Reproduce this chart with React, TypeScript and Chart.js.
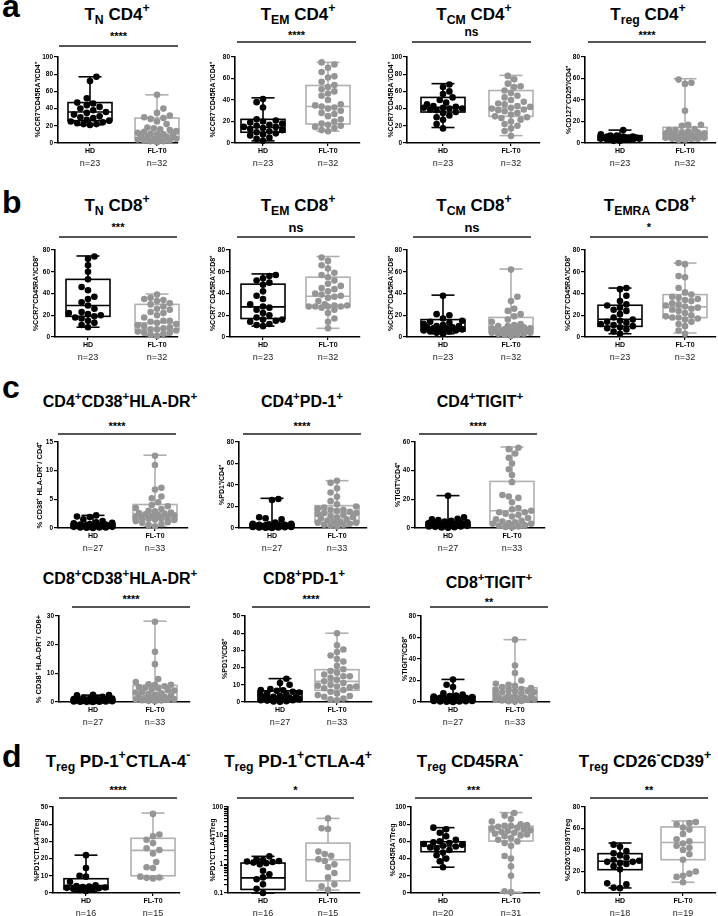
import React, { useEffect, useRef } from "react";
import { Chart, registerables } from "chart.js";

Chart.register(...registerables);
Chart.defaults.font.family = '"Liberation Sans", Arial, Helvetica, sans-serif';

const FONT = '"Liberation Sans", Arial, Helvetica, sans-serif';
const GROUPS = ["HD", "FL-T0"];
const HD_COLOR = "#000000";
const FL_POINT = "#959595";
const FL_LINE = "#b0b0b0";

// ---------- data ----------
// box stats: [min, q1, median, q3, max]
const TN_CD4_HD = [77, 72, 52, 47, 46, 44, 42, 40, 38, 36, 35, 33, 31, 30, 29, 27, 26, 25, 24, 23, 22, 22, 21];
const TN_CD4_FL = [56, 40, 35, 32, 30, 29, 28, 25, 22, 18, 17, 16, 15, 14, 13, 12, 11, 10, 10, 9, 8, 7, 7, 6, 5, 5, 4, 3, 3, 2, 2, 1];
const TN_CD4_HD_BOX = [21, 26, 36, 47, 77];
const TN_CD4_FL_BOX = [1, 5, 10.5, 29, 56];

const TEM_CD4_HD = [41, 38, 33, 22, 21, 20, 19, 18, 17, 16, 15, 15, 14, 13, 12, 11, 10, 9, 8, 7, 5, 4, 2];
const TEM_CD4_FL = [75, 73, 70, 66, 62, 61, 57, 54, 52, 50, 48, 46, 44, 40, 36, 35, 34, 33, 32, 30, 28, 27, 25, 22, 20, 18, 17, 16, 15, 14, 12, 11];
const TEM_CD4_HD_BOX = [2, 10, 14.6, 22, 42];
const TEM_CD4_FL_BOX = [11, 17.7, 34, 53.5, 75];

const TCM_CD4_HD = [68, 65, 60, 57, 53, 50, 47, 45, 43, 42, 41, 41, 40, 40, 39, 38, 36, 35, 32, 30, 27, 22, 17];
const TCM_CD4_FL = [78, 74, 69, 66, 65, 61, 58, 55, 53, 50, 48, 46, 45, 43, 42, 41, 40, 39, 38, 37, 35, 33, 31, 30, 29, 27, 25, 22, 20, 17, 14, 8];
const TCM_CD4_HD_BOX = [18, 36, 41.6, 53, 69];
const TCM_CD4_FL_BOX = [8.6, 31, 41, 61, 78.6];

const TREG_CD4_HD = [12, 8, 7, 7, 6, 6, 6, 5, 5, 5, 5, 5, 5, 4, 4, 4, 4, 4, 3, 3, 3, 2, 2];
const TREG_CD4_FL = [59, 56, 55, 30, 17, 17, 16, 13, 12, 12, 11, 10, 10, 9, 9, 8, 8, 7, 7, 7, 6, 6, 6, 5, 5, 5, 5, 4, 4, 4, 3, 3];
const TREG_CD4_HD_BOX = [1.5, 2.8, 4.7, 6.9, 12];
const TREG_CD4_FL_BOX = [2.2, 3.7, 6.9, 14.6, 59.8];

const TN_CD8_HD = [74, 72, 66, 60, 53, 46, 43, 37, 35, 32, 29, 26, 23, 22, 21, 20, 19, 18, 17, 15, 13, 11, 9];
const TN_CD8_FL = [39, 36, 35, 34, 33, 31, 30, 28, 26, 25, 23, 22, 20, 18, 15, 15, 14, 13, 12, 11, 10, 9, 8, 7, 7, 6, 5, 4, 4, 3, 2, 1];
const TN_CD8_HD_BOX = [9, 19, 29, 53, 74.5];
const TN_CD8_FL_BOX = [1.5, 7, 13, 30, 39.5];

const TEM_CD8_HD = [57, 56, 54, 52, 50, 48, 42, 38, 35, 30, 28, 27, 25, 22, 20, 18, 16, 16, 15, 14, 12, 11, 10];
const TEM_CD8_FL = [73, 70, 66, 63, 59, 57, 55, 52, 49, 47, 45, 44, 42, 40, 39, 38, 37, 36, 33, 30, 29, 29, 28, 28, 28, 28, 27, 25, 22, 17, 14, 8];
const TEM_CD8_HD_BOX = [10, 17, 27.7, 48.6, 58];
const TEM_CD8_FL_BOX = [8, 28, 37.5, 55, 74];

const TCM_CD8_HD = [38, 21, 20, 17, 15, 14, 13, 12, 11, 10, 10, 9, 9, 8, 8, 7, 7, 6, 6, 5, 5, 4, 3];
const TCM_CD8_FL = [62, 37, 33, 26, 24, 21, 19, 16, 14, 12, 11, 10, 10, 9, 9, 8, 8, 7, 7, 6, 6, 6, 5, 5, 5, 4, 4, 3, 3, 2, 2, 1];
const TCM_CD8_HD_BOX = [3, 5.5, 9, 16, 38.5];
const TCM_CD8_FL_BOX = [1.5, 4.6, 8.3, 18, 62.5];

const TEMRA_CD8_HD = [45, 44, 38, 33, 30, 29, 27, 25, 24, 21, 18, 16, 15, 14, 13, 12, 11, 10, 9, 8, 7, 5, 3];
const TEMRA_CD8_FL = [68, 67, 56, 55, 45, 41, 39, 37, 36, 35, 34, 33, 31, 30, 29, 28, 27, 26, 25, 24, 22, 20, 19, 18, 18, 17, 16, 14, 12, 10, 6, 3];
const TEMRA_CD8_HD_BOX = [3, 9.8, 16.3, 29.2, 45];
const TEMRA_CD8_FL_BOX = [3.7, 17.8, 27.7, 39, 68];

const CD4_HLA_HD = [2.2, 2.0, 1.9, 1.5, 1.2, 1.0, 0.9, 0.8, 0.7, 0.6, 0.6, 0.5, 0.5, 0.4, 0.4, 0.4, 0.3, 0.3, 0.3, 0.2, 0.2, 0.2, 0.1, 0.1, 0.1, 0.05, 0.02];
const CD4_HLA_FL = [12.6, 11, 7, 6.7, 5.5, 5.2, 4.5, 4, 3.8, 3.5, 3.3, 3.0, 2.9, 2.7, 2.6, 2.5, 2.4, 2.3, 2.2, 2.1, 2.0, 1.9, 1.8, 1.7, 1.6, 1.5, 1.4, 1.2, 1.0, 0.9, 0.7, 0.5, 0.3];
const CD4_HLA_HD_BOX = [0, 0.06, 0.3, 0.75, 2.2];
const CD4_HLA_FL_BOX = [0.3, 1.45, 2.4, 4.1, 12.7];

const CD4_PD1_HD = [27, 26, 10, 9, 8, 5, 4, 4, 3.5, 3, 3, 3, 2.5, 2.5, 2, 2, 2, 1.5, 1.5, 1, 1, 1, 0.8, 0.5, 0.5, 0.3, 0.1];
const CD4_PD1_FL = [44, 42, 37, 33, 29, 25, 22, 20, 19, 18, 17, 17, 16, 15, 14, 14, 13, 12, 11, 10, 10, 9, 8, 7, 6, 6, 5, 5, 4, 3, 3, 2, 1.5];
const CD4_PD1_HD_BOX = [0, 0.6, 2.2, 4, 27.6];
const CD4_PD1_FL_BOX = [1.5, 5.3, 14, 20.8, 44];

const CD4_TIGIT_HD = [22.5, 7.5, 6.5, 6, 5.5, 5, 4.5, 4, 4, 3.5, 3.5, 3, 3, 3, 2.5, 2.5, 2, 2, 2, 1.5, 1.5, 1, 1, 0.8, 0.5, 0.3, 0.1];
const CD4_TIGIT_FL = [56, 55, 52, 49, 45, 41, 37, 32, 23, 22, 21, 18, 14, 13, 12, 11, 11, 10, 9, 8, 7, 6, 5, 4.5, 4, 3.5, 3, 3, 2, 1.5, 1, 0.8, 0.5];
const CD4_TIGIT_HD_BOX = [0, 1.2, 2.1, 4, 22.6];
const CD4_TIGIT_FL_BOX = [0.5, 3, 12, 32.5, 56.5];

const CD8_HLA_HD = [2.5, 2.4, 2.3, 1.8, 1.5, 1.3, 1.2, 1.1, 1.0, 0.9, 0.8, 0.8, 0.7, 0.6, 0.6, 0.5, 0.5, 0.4, 0.4, 0.3, 0.3, 0.2, 0.2, 0.1, 0.1, 0.05, 0.02];
const CD8_HLA_FL = [28, 17.5, 13.2, 8, 7, 6.2, 6, 6, 5.5, 5.2, 5, 4.8, 4.5, 4.2, 4, 3.5, 3.3, 3, 2.8, 2.5, 2.2, 2, 1.8, 1.5, 1.4, 1.2, 1.0, 0.9, 0.8, 0.6, 0.5, 0.4, 0.3];
const CD8_HLA_HD_BOX = [0, 0.1, 0.45, 0.9, 2.4];
const CD8_HLA_FL_BOX = [0.3, 1.5, 3.3, 5.8, 28.2];

const CD8_PD1_HD = [13.5, 11, 10, 7.5, 7, 6.8, 6.5, 6, 5.5, 5, 4.5, 4, 3.5, 3, 3, 2.5, 2.5, 2, 2, 1.5, 1.5, 1, 1, 0.8, 0.5, 0.3, 0.1];
const CD8_PD1_FL = [40, 33, 30.5, 29, 27, 25, 23.5, 21, 19, 18, 17, 16, 15, 15, 14, 13, 12, 11, 10, 9.5, 9, 9, 8.5, 8, 7, 6, 5, 4, 3.5, 3, 2, 1.5, 1];
const CD8_PD1_HD_BOX = [0, 0.5, 2.9, 6.5, 13.6];
const CD8_PD1_FL_BOX = [1, 6.8, 12, 18.8, 40];

const CD8_TIGIT_HD = [21, 16, 14, 8, 7, 6, 5.5, 5, 4.5, 4, 4, 3.5, 3, 3, 2.5, 2.5, 2, 2, 1.5, 1.5, 1, 1, 0.8, 0.5, 0.4, 0.2, 0.1];
const CD8_TIGIT_FL = [58, 34, 27, 20, 17, 16, 15, 14, 13, 12, 11, 11, 10, 10, 9, 9, 8, 7, 6, 5, 5, 4, 4, 3.5, 3, 3, 2.5, 2, 2, 1.5, 1, 0.8, 0.5];
const CD8_TIGIT_HD_BOX = [0, 0.9, 2.2, 5.2, 21];
const CD8_TIGIT_FL_BOX = [0.6, 1.5, 4, 13.2, 58];

const TREG_PD1_CTLA4N_HD = [22, 14.5, 10, 9.5, 6.5, 4.5, 4, 3.8, 3.5, 3.2, 3, 2.8, 2.5, 2.2, 1.8, 1.2];
const TREG_PD1_CTLA4N_FL = [46, 34, 33, 31, 29, 26, 25, 23, 18, 15, 14.5, 9.5, 9, 8.8, 8.5];
const TREG_PD1_CTLA4N_HD_BOX = [1, 2.3, 4.3, 8.3, 22];
const TREG_PD1_CTLA4N_FL_BOX = [8.5, 10, 24.8, 31.8, 46.5];

const TREG_PD1_CTLA4P_HD = [1.9, 1.5, 1.4, 1.3, 1.25, 1.2, 1.15, 1.1, 1.0, 0.6, 0.45, 0.35, 0.3, 0.2, 0.14, 0.1];
const TREG_PD1_CTLA4P_FL = [40, 18, 17, 2.8, 2.3, 2.0, 1.5, 1.3, 1.0, 0.8, 0.5, 0.35, 0.2, 0.17, 0.13];
const TREG_PD1_CTLA4P_HD_BOX = [0.1, 0.133, 0.337, 1.11, 1.9];
const TREG_PD1_CTLA4P_FL_BOX = [0.126, 0.265, 1.45, 5.5, 40];

const TREG_CD45RA_HD = [76, 74, 70, 66, 62, 60, 59, 58, 57, 56, 55, 54, 53, 52, 50, 47, 44, 40, 37, 30];
const TREG_CD45RA_FL = [93, 90, 86, 83, 80, 79, 78, 78, 77, 76, 75, 74, 73, 72, 71, 70, 69, 68, 67, 66, 64, 62, 60, 58, 55, 43, 40, 31, 20, 2, 1];
const TREG_CD45RA_HD_BOX = [30, 48, 54.6, 59.6, 76];
const TREG_CD45RA_FL_BOX = [1, 60.4, 71, 77.7, 93.5];

const TREG_CD26_HD = [45, 43, 39, 37, 35, 33, 31, 30, 29, 29, 28, 27, 25, 22, 9, 8, 5, 4.5];
const TREG_CD26_FL = [66, 65, 64, 61, 59, 55, 50, 48, 46, 44, 42, 40, 36, 31, 20, 18, 16, 15, 10];
const TREG_CD26_HD_BOX = [4.7, 21.7, 29.5, 36.6, 46.5];
const TREG_CD26_FL_BOX = [10, 31, 47, 61.4, 67];

// ---------- panel definitions ----------
type Seg = [string, string?];
interface P {
  title: Seg[]; tx: number; tb: number; ts: number;
  stars: string; sb: number; ss: number;
  ly: number; lx1: number; lx2: number;
  axisX: number; axisEnd: number; yTop: number; y0: number; hdX: number; flX: number;
  yMin: number; yMax: number; step?: number; log?: boolean;
  yTitle: string; yto: number; ytSize?: number;
  hd: number[]; fl: number[]; hdBox: number[]; flBox: number[];
}

const T = (sub: string, rest: string, ...more: Seg[]): Seg[] => [["T"], [sub, "sub"], [rest], ...more];

const PANELS: P[] = [
  // row a
  { title: T("N", " CD4", ["+", "sup"]), tx: 117, tb: 20, ts: 17, stars: "****", sb: 40, ss: 11, ly: 46, lx1: 59, lx2: 178,
    axisX: 58, axisEnd: 178, yTop: 57, y0: 143, hdX: 90, flX: 157, yMin: 0, yMax: 100, step: 20,
    yTitle: "%CCR7⁺CD45RA⁺/CD4⁺", yto: 20, hd: TN_CD4_HD, fl: TN_CD4_FL, hdBox: TN_CD4_HD_BOX, flBox: TN_CD4_FL_BOX },
  { title: T("EM", " CD4", ["+", "sup"]), tx: 298, tb: 20, ts: 17, stars: "****", sb: 39, ss: 11, ly: 42, lx1: 237, lx2: 356,
    axisX: 235, axisEnd: 360, yTop: 57, y0: 143, hdX: 263, flX: 328, yMin: 0, yMax: 80, step: 20,
    yTitle: "%CCR7⁻CD45RA⁻/CD4⁺", yto: 22, hd: TEM_CD4_HD, fl: TEM_CD4_FL, hdBox: TEM_CD4_HD_BOX, flBox: TEM_CD4_FL_BOX },
  { title: T("CM", " CD4", ["+", "sup"]), tx: 474, tb: 20, ts: 17, stars: "ns", sb: 36, ss: 12, ly: 42, lx1: 412, lx2: 531,
    axisX: 407, axisEnd: 540, yTop: 57, y0: 143, hdX: 443, flX: 511, yMin: 0, yMax: 100, step: 20,
    yTitle: "%CCR7⁺CD45RA⁻/CD4⁺", yto: 16, hd: TCM_CD4_HD, fl: TCM_CD4_FL, hdBox: TCM_CD4_HD_BOX, flBox: TCM_CD4_FL_BOX },
  { title: T("reg", " CD4", ["+", "sup"]), tx: 648, tb: 20, ts: 17, stars: "****", sb: 39, ss: 11, ly: 42, lx1: 588, lx2: 706,
    axisX: 585, axisEnd: 716, yTop: 57, y0: 143, hdX: 620, flX: 685, yMin: 0, yMax: 80, step: 20,
    yTitle: "%CD127⁻CD25⁺/CD4⁺", yto: 16, hd: TREG_CD4_HD, fl: TREG_CD4_FL, hdBox: TREG_CD4_HD_BOX, flBox: TREG_CD4_FL_BOX },
  // row b
  { title: T("N", " CD8", ["+", "sup"]), tx: 117, tb: 211, ts: 17, stars: "***", sb: 231, ss: 11, ly: 237, lx1: 59, lx2: 177,
    axisX: 55, axisEnd: 178, yTop: 250, y0: 337, hdX: 88, flX: 157, yMin: 0, yMax: 80, step: 20,
    yTitle: "%CCR7⁺CD45RA⁺/CD8⁺", yto: 19, hd: TN_CD8_HD, fl: TN_CD8_FL, hdBox: TN_CD8_HD_BOX, flBox: TN_CD8_FL_BOX },
  { title: T("EM", " CD8", ["+", "sup"]), tx: 298, tb: 211, ts: 17, stars: "ns", sb: 232, ss: 13, ly: 237, lx1: 237, lx2: 355,
    axisX: 230, axisEnd: 360, yTop: 250, y0: 337, hdX: 263, flX: 328, yMin: 0, yMax: 80, step: 20,
    yTitle: "%CCR7⁻CD45RA⁻/CD8⁺", yto: 17, hd: TEM_CD8_HD, fl: TEM_CD8_FL, hdBox: TEM_CD8_HD_BOX, flBox: TEM_CD8_FL_BOX },
  { title: T("CM", " CD8", ["+", "sup"]), tx: 474, tb: 211, ts: 17, stars: "ns", sb: 232, ss: 13, ly: 237, lx1: 413, lx2: 531,
    axisX: 407, axisEnd: 540, yTop: 250, y0: 337, hdX: 443, flX: 511, yMin: 0, yMax: 80, step: 20,
    yTitle: "%CCR7⁺CD45RA⁻/CD8⁺", yto: 16, hd: TCM_CD8_HD, fl: TCM_CD8_FL, hdBox: TCM_CD8_HD_BOX, flBox: TCM_CD8_FL_BOX },
  { title: T("EMRA", " CD8", ["+", "sup"]), tx: 650, tb: 211, ts: 17, stars: "*", sb: 231, ss: 11, ly: 237, lx1: 590, lx2: 708,
    axisX: 585, axisEnd: 716, yTop: 250, y0: 337, hdX: 620, flX: 685, yMin: 0, yMax: 80, step: 20,
    yTitle: "%CCR7⁻CD45RA⁺/CD8⁺", yto: 17, hd: TEMRA_CD8_HD, fl: TEMRA_CD8_FL, hdBox: TEMRA_CD8_HD_BOX, flBox: TEMRA_CD8_FL_BOX },
  // row c (top)
  { title: [["CD4"], ["+", "sup"], ["CD38"], ["+", "sup"], ["HLA-DR"], ["+", "sup"]], tx: 120, tb: 408, ts: 16, stars: "****", sb: 430, ss: 11, ly: 434, lx1: 58, lx2: 176,
    axisX: 58, axisEnd: 188, yTop: 442, y0: 528, hdX: 93, flX: 155, yMin: 0, yMax: 15, step: 5,
    yTitle: "% CD38⁺ HLA-DR⁺/ CD4⁺", yto: 18, ytSize: 7.5, hd: CD4_HLA_HD, fl: CD4_HLA_FL, hdBox: CD4_HLA_HD_BOX, flBox: CD4_HLA_FL_BOX },
  { title: [["CD4"], ["+", "sup"], ["PD-1"], ["+", "sup"]], tx: 302, tb: 408, ts: 16, stars: "****", sb: 430, ss: 11, ly: 434, lx1: 243, lx2: 361,
    axisX: 239, axisEnd: 367, yTop: 442, y0: 528, hdX: 272, flX: 337, yMin: 0, yMax: 80, step: 20,
    yTitle: "%PD1⁺/CD4⁺", yto: 17, hd: CD4_PD1_HD, fl: CD4_PD1_FL, hdBox: CD4_PD1_HD_BOX, flBox: CD4_PD1_FL_BOX },
  { title: [["CD4"], ["+", "sup"], ["TIGIT"], ["+", "sup"]], tx: 480, tb: 408, ts: 16, stars: "****", sb: 430, ss: 11, ly: 434, lx1: 419, lx2: 537,
    axisX: 415, axisEnd: 545, yTop: 442, y0: 528, hdX: 448, flX: 512, yMin: 0, yMax: 60, step: 20,
    yTitle: "%TIGIT⁺/CD4⁺", yto: 17, hd: CD4_TIGIT_HD, fl: CD4_TIGIT_FL, hdBox: CD4_TIGIT_HD_BOX, flBox: CD4_TIGIT_FL_BOX },
  // row c (bottom)
  { title: [["CD8"], ["+", "sup"], ["CD38"], ["+", "sup"], ["HLA-DR"], ["+", "sup"]], tx: 120, tb: 585, ts: 16, stars: "****", sb: 603, ss: 11, ly: 607, lx1: 72, lx2: 190,
    axisX: 59, axisEnd: 190, yTop: 616, y0: 702, hdX: 93, flX: 155, yMin: 0, yMax: 30, step: 10,
    yTitle: "% CD38⁺ HLA-DR⁺/ CD8+", yto: 20, ytSize: 7.5, hd: CD8_HLA_HD, fl: CD8_HLA_FL, hdBox: CD8_HLA_HD_BOX, flBox: CD8_HLA_FL_BOX },
  { title: [["CD8"], ["+", "sup"], ["PD-1"], ["+", "sup"]], tx: 304, tb: 585, ts: 16, stars: "****", sb: 603, ss: 11, ly: 607, lx1: 252, lx2: 370,
    axisX: 245, axisEnd: 372, yTop: 616, y0: 702, hdX: 280, flX: 337, yMin: 0, yMax: 50, step: 10,
    yTitle: "%PD1⁺/CD8⁺", yto: 20, hd: CD8_PD1_HD, fl: CD8_PD1_FL, hdBox: CD8_PD1_HD_BOX, flBox: CD8_PD1_FL_BOX },
  { title: [["CD8"], ["+", "sup"], ["TIGIT"], ["+", "sup"]], tx: 489, tb: 589, ts: 16, stars: "**", sb: 606, ss: 11, ly: 607, lx1: 430, lx2: 548,
    axisX: 421, axisEnd: 550, yTop: 616, y0: 702, hdX: 453, flX: 515, yMin: 0, yMax: 80, step: 20,
    yTitle: "%TIGIT⁺/CD8⁺", yto: 16, hd: CD8_TIGIT_HD, fl: CD8_TIGIT_FL, hdBox: CD8_TIGIT_HD_BOX, flBox: CD8_TIGIT_FL_BOX },
  // row d
  { title: T("reg", " PD-1", ["+", "sup"], ["CTLA-4"], ["-", "sup"]), tx: 118, tb: 767, ts: 17, stars: "****", sb: 794, ss: 11, ly: 798, lx1: 59, lx2: 177,
    axisX: 53, axisEnd: 180, yTop: 807, y0: 893, hdX: 86, flX: 153, yMin: 0, yMax: 50, step: 10,
    yTitle: "%PD1⁺CTLA4⁻/Treg", yto: 16, hd: TREG_PD1_CTLA4N_HD, fl: TREG_PD1_CTLA4N_FL, hdBox: TREG_PD1_CTLA4N_HD_BOX, flBox: TREG_PD1_CTLA4N_FL_BOX },
  { title: T("reg", " PD-1", ["+", "sup"], ["CTLA-4"], ["+", "sup"]), tx: 298, tb: 767, ts: 17, stars: "*", sb: 794, ss: 11, ly: 798, lx1: 237, lx2: 354,
    axisX: 228, axisEnd: 360, yTop: 807, y0: 893, hdX: 263, flX: 328, yMin: 0.1, yMax: 100, log: true,
    yTitle: "%PD1⁺CTLA4⁺/Treg", yto: 15, hd: TREG_PD1_CTLA4P_HD, fl: TREG_PD1_CTLA4P_FL, hdBox: TREG_PD1_CTLA4P_HD_BOX, flBox: TREG_PD1_CTLA4P_FL_BOX },
  { title: T("reg", " CD45RA", ["-", "sup"]), tx: 470, tb: 767, ts: 17, stars: "***", sb: 794, ss: 11, ly: 798, lx1: 415, lx2: 532,
    axisX: 411, axisEnd: 540, yTop: 807, y0: 893, hdX: 443, flX: 511, yMin: 0, yMax: 100, step: 20,
    yTitle: "%CD45RA⁻/Treg", yto: 18, hd: TREG_CD45RA_HD, fl: TREG_CD45RA_FL, hdBox: TREG_CD45RA_HD_BOX, flBox: TREG_CD45RA_FL_BOX },
  { title: T("reg", " CD26", ["-", "sup"], ["CD39"], ["+", "sup"]), tx: 645, tb: 767, ts: 17, stars: "**", sb: 794, ss: 11, ly: 798, lx1: 590, lx2: 708,
    axisX: 585, axisEnd: 716, yTop: 807, y0: 893, hdX: 620, flX: 683, yMin: 0, yMax: 80, step: 20,
    yTitle: "%CD26⁻CD39⁺/Treg", yto: 17, hd: TREG_CD26_HD, fl: TREG_CD26_FL, hdBox: TREG_CD26_HD_BOX, flBox: TREG_CD26_FL_BOX },
];

const LETTERS: [string, number][] = [["a", 17], ["b", 213], ["c", 398], ["d", 767]];

// ---------- layout constants ----------
const PADL = 30, PADR = 6, PADT = 8, XH = 30;
const BOX_HALF = 22, CAP = 11.5, R = 3.3;

// beeswarm offsets (pixels) for a set of values
function swarm(values: number[], toPx: (v: number) => number, halfW: number, D: number): number[] {
  const order = values.map((_, i) => i).sort((a, b) => values[a] - values[b]);
  const placed: { x: number; y: number }[] = [];
  const offs = new Array(values.length).fill(0);
  const step = D * 0.5;
  const maxK = Math.floor(halfW / step);
  let flip = 1;
  for (const i of order) {
    const py = toPx(values[i]);
    let best = 0, bestScore = -Infinity, found = false;
    for (let k = 0; k <= maxK && !found; k++) {
      const signs = k === 0 ? [0] : [flip, -flip];
      for (const s of signs) {
        const cx = s * k * step;
        let minD = Infinity;
        for (const q of placed) {
          const d = Math.hypot(q.x - cx, q.y - py);
          if (d < minD) minD = d;
        }
        if (minD >= D) { best = cx; found = true; break; }
        if (minD > bestScore) { bestScore = minD; best = cx; }
      }
    }
    flip = -flip;
    placed.push({ x: best, y: py });
    offs[i] = best;
  }
  return offs;
}

function Panel({ p }: { p: P }) {
  const ref = useRef<HTMLCanvasElement>(null);
  const plotW = p.axisEnd - p.axisX;
  const plotH = p.y0 - p.yTop;
  const W = PADL + plotW + PADR;
  const H = PADT + plotH + XH;

  useEffect(() => {
    const ppuX = p.flX - p.hdX;
    const xMin = 1 - (p.hdX - p.axisX) / ppuX;
    const xMax = 2 + (p.axisEnd - p.flX) / ppuX;
    const toPx = p.log
      ? (v: number) => (Math.log10(v) * plotH) / (Math.log10(p.yMax) - Math.log10(p.yMin))
      : (v: number) => (v * plotH) / (p.yMax - p.yMin);
    const mk = (vals: number[], pos: number) => {
      const o = swarm(vals, toPx, 20, 6.4);
      return vals.map((v, i) => ({ x: pos + o[i] / ppuX, y: v }));
    };
    const ytSize = p.ytSize ?? 7;
    const ytLine = ytSize * 1.2;
    const yW = p.yto + ytLine / 2;

    const plugin = {
      id: "boxes",
      beforeDatasetsDraw(chart: any) {
        const { ctx } = chart;
        const x = chart.scales.x, y = chart.scales.y;
        const items: [number, number[], string][] = [[1, p.hdBox, HD_COLOR], [2, p.flBox, FL_LINE]];
        ctx.save();
        for (const [pos, b, col] of items) {
          const cx = x.getPixelForValue(pos);
          const [mn, q1, md, q3, mx] = b.map((v) => y.getPixelForValue(v));
          ctx.strokeStyle = col;
          ctx.lineWidth = 1.6;
          ctx.lineCap = "butt";
          ctx.strokeRect(cx - BOX_HALF, q3, 2 * BOX_HALF, q1 - q3);
          const line = (x1: number, y1: number, x2: number, y2: number) => {
            ctx.beginPath(); ctx.moveTo(x1, y1); ctx.lineTo(x2, y2); ctx.stroke();
          };
          line(cx - BOX_HALF, md, cx + BOX_HALF, md);
          line(cx, q3, cx, mx);
          line(cx, q1, cx, mn);
          line(cx - CAP, mx, cx + CAP, mx);
          line(cx - CAP, mn, cx + CAP, mn);
        }
        ctx.restore();
      },
      afterDraw(chart: any) {
        const { ctx } = chart;
        const x = chart.scales.x;
        ctx.save();
        ctx.font = `9px ${FONT}`;
        ctx.fillStyle = "#222";
        ctx.textAlign = "center";
        ctx.textBaseline = "alphabetic";
        const base = chart.chartArea.bottom + 23;
        ctx.fillText(`n=${p.hd.length}`, x.getPixelForValue(1), base);
        ctx.fillText(`n=${p.fl.length}`, x.getPixelForValue(2), base);
        ctx.restore();
      },
    };

    const chart = new Chart(ref.current as HTMLCanvasElement, {
      type: "scatter",
      data: {
        datasets: [
          { label: GROUPS[0], data: mk(p.hd, 1), pointRadius: R, pointBackgroundColor: HD_COLOR, pointBorderWidth: 0, clip: false as any },
          { label: GROUPS[1], data: mk(p.fl, 2), pointRadius: R, pointBackgroundColor: FL_POINT, pointBorderWidth: 0, clip: false as any },
        ],
      },
      options: {
        responsive: false,
        animation: false,
        events: [],
        devicePixelRatio: 1,
        layout: { padding: { left: PADL - yW, right: PADR, top: PADT, bottom: 0 } },
        plugins: { legend: { display: false }, tooltip: { enabled: false } },
        scales: {
          x: {
            type: "linear",
            min: xMin,
            max: xMax,
            afterBuildTicks: (s: any) => { s.ticks = [{ value: 1 }, { value: 2 }]; },
            afterFit: (s: any) => { s.height = XH; },
            border: { display: true, color: "#000", width: 1.6 },
            grid: { display: true, drawOnChartArea: false, drawTicks: true, tickLength: 3, color: "#000", lineWidth: 1.2 },
            ticks: {
              autoSkip: false, maxRotation: 0, padding: 1, color: "#000",
              font: { size: 7, weight: "bold", family: FONT },
              callback: (v: any) => (v === 1 ? GROUPS[0] : v === 2 ? GROUPS[1] : ""),
            },
          },
          y: {
            type: p.log ? "logarithmic" : "linear",
            min: p.yMin,
            max: p.yMax,
            afterFit: (s: any) => { s.width = yW; },
            border: { display: true, color: "#000", width: 1.6 },
            grid: { display: true, drawOnChartArea: false, drawTicks: true, tickLength: 4, color: "#000", lineWidth: 1.2 },
            ticks: {
              autoSkip: false, padding: 1, color: "#000",
              font: { size: 6.5, weight: "bold", family: FONT },
              ...(p.log
                ? { callback: (v: any) => { const l = Math.log10(v); return Math.abs(l - Math.round(l)) < 1e-9 ? String(v) : ""; } }
                : { stepSize: p.step }),
            },
            title: { display: true, text: p.yTitle, color: "#000", padding: 0, font: { size: ytSize, weight: "bold", family: FONT } },
          },
        },
      } as any,
      plugins: [plugin],
    });
    return () => chart.destroy();
  }, []);

  return (
    <canvas
      ref={ref}
      width={W}
      height={H}
      style={{ position: "absolute", left: p.axisX - PADL, top: p.yTop - PADT, width: W, height: H }}
    />
  );
}

function Txt({ x, base, size, weight = "bold", children, color = "#000" }: any) {
  return (
    <div
      style={{
        position: "absolute", left: x, top: base - 0.8465 * size, transform: "translateX(-50%)",
        fontFamily: FONT, fontWeight: weight, fontSize: size, lineHeight: `${size}px`,
        whiteSpace: "nowrap", color,
      }}
    >
      {children}
    </div>
  );
}

function Title({ p }: { p: P }) {
  const s = p.ts;
  return (
    <Txt x={p.tx} base={p.tb} size={s}>
      {p.title.map(([t, k], i) =>
        k === "sub" ? (
          <span key={i} style={{ fontSize: s * 0.72, position: "relative", top: s * 0.24 }}>{t}</span>
        ) : k === "sup" ? (
          <span key={i} style={{ fontSize: s * 0.72, position: "relative", top: -s * 0.45 }}>{t}</span>
        ) : (
          <span key={i}>{t}</span>
        )
      )}
    </Txt>
  );
}

export default function App() {
  return (
    <div style={{ position: "absolute", left: 0, top: 0, width: 718, height: 916, background: "#fff", overflow: "hidden" }}>
      {LETTERS.map(([l, b]) => (
        <div key={l} style={{ position: "absolute", left: 2, top: b - 0.8465 * 32, fontFamily: FONT, fontWeight: "bold", fontSize: 32, lineHeight: "32px", color: "#000" }}>
          {l}
        </div>
      ))}
      {PANELS.map((p, i) => (
        <React.Fragment key={i}>
          <Title p={p} />
          <Txt x={(p.lx1 + p.lx2) / 2} base={p.sb} size={p.ss}>{p.stars}</Txt>
          <div style={{ position: "absolute", left: p.lx1, top: p.ly - 0.7, width: p.lx2 - p.lx1, height: 1.4, background: "#555" }} />
          <Panel p={p} />
        </React.Fragment>
      ))}
    </div>
  );
}
